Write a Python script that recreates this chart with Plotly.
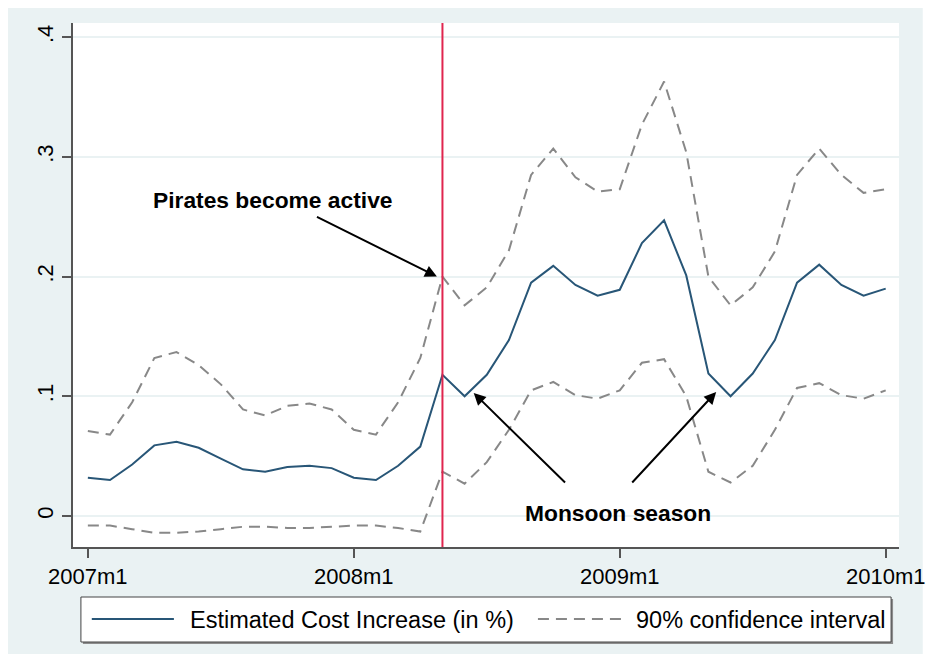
import plotly.graph_objects as go

# ---------------- data ----------------
month_labels = ["2007m1", "2008m1", "2009m1", "2010m1"]
month_tick_index = [0, 12, 24, 36]
months = list(range(37))  # 2007m1 .. 2010m1

estimate = [0.032, 0.030, 0.043, 0.059, 0.062, 0.057, 0.048, 0.039, 0.037, 0.041,
            0.042, 0.040, 0.032, 0.030, 0.042, 0.058, 0.118, 0.100, 0.118, 0.147,
            0.195, 0.209, 0.193, 0.184, 0.189, 0.228, 0.247, 0.201, 0.119, 0.100,
            0.119, 0.147, 0.195, 0.210, 0.193, 0.184, 0.190]

ci_upper = [0.071, 0.068, 0.095, 0.132, 0.137, 0.126, 0.110, 0.089, 0.084, 0.092,
            0.094, 0.089, 0.072, 0.068, 0.095, 0.132, 0.200, 0.176, 0.191, 0.222,
            0.285, 0.307, 0.283, 0.271, 0.273, 0.327, 0.363, 0.304, 0.200, 0.176,
            0.191, 0.221, 0.285, 0.307, 0.285, 0.270, 0.273]

ci_lower = [-0.008, -0.008, -0.011, -0.014, -0.014, -0.013, -0.011, -0.009, -0.009, -0.010,
            -0.010, -0.009, -0.008, -0.008, -0.010, -0.013, 0.037, 0.027, 0.045, 0.072,
            0.105, 0.112, 0.101, 0.098, 0.105, 0.128, 0.131, 0.100, 0.037, 0.028,
            0.042, 0.072, 0.107, 0.111, 0.101, 0.098, 0.105]

y_tick_vals = [0, 0.1, 0.2, 0.3, 0.4]
y_tick_text = ["0", ".1", ".2", ".3", ".4"]

pirates_month = 16  # 2008m5

series_names = ["Estimated Cost Increase (in %)", "90% confidence interval"]

# ---------------- styling ----------------
OFF = 8                       # page body margin
W, H = 937 - OFF, 654 - OFF
L, R, T, B = 65, 29, 15, 107
PW, PH = W - L - R, H - T - B
BG = "#EAF2F3"
NAVY = "#285677"
GRAYL = "#888888"
FONT = "Liberation Sans, Arial, Helvetica, sans-serif"


def px_x(x):
    # reference (window) pixel -> paper coordinate
    return (x - OFF - L) / PW


def px_y(y):
    return (H - B - (y - OFF)) / PH


fig = go.Figure()

fig.add_trace(go.Scatter(x=months, y=ci_upper, mode="lines", name=series_names[1],
                         line=dict(color=GRAYL, width=2, dash="11px,7px"), showlegend=False))
fig.add_trace(go.Scatter(x=months, y=ci_lower, mode="lines", name=series_names[1],
                         line=dict(color=GRAYL, width=2, dash="11px,7px"), showlegend=False))
fig.add_trace(go.Scatter(x=months, y=estimate, mode="lines", name=series_names[0],
                         line=dict(color=NAVY, width=2), showlegend=False))

shapes = []
# white strip on the right edge
shapes.append(dict(type="rect", xref="paper", yref="paper", x0=px_x(932), x1=px_x(945),
                   y0=px_y(660), y1=px_y(0), fillcolor="white", line=dict(width=0), layer="below"))

# vertical red line at pirates onset
shapes.append(dict(type="line", xref="x", yref="paper", x0=pirates_month, x1=pirates_month,
                   y0=0, y1=1, line=dict(color="#E0254E", width=2)))

# custom legend box
shapes.append(dict(type="rect", xref="paper", yref="paper", x0=px_x(83), x1=px_x(902),
                   y0=px_y(644), y1=px_y(599), fillcolor="#8c8c8c", line=dict(width=0)))
shapes.append(dict(type="rect", xref="paper", yref="paper", x0=px_x(81), x1=px_x(900),
                   y0=px_y(642), y1=px_y(597), fillcolor="white",
                   line=dict(color="#444444", width=1)))
shapes.append(dict(type="line", xref="paper", yref="paper", x0=px_x(92), x1=px_x(175),
                   y0=px_y(619), y1=px_y(619), line=dict(color=NAVY, width=2)))
shapes.append(dict(type="line", xref="paper", yref="paper", x0=px_x(543), x1=px_x(627),
                   y0=px_y(619), y1=px_y(619), line=dict(color=GRAYL, width=2, dash="11px,7px")))

annotations = []
annotations.append(dict(xref="paper", yref="paper", x=px_x(189), y=px_y(620), text=series_names[0],
                        showarrow=False, xanchor="left", yanchor="middle",
                        font=dict(family=FONT, size=23.5, color="black")))
annotations.append(dict(xref="paper", yref="paper", x=px_x(640), y=px_y(620), text=series_names[1],
                        showarrow=False, xanchor="left", yanchor="middle",
                        font=dict(family=FONT, size=23.5, color="black")))

# text labels
annotations.append(dict(x=8.35, y=0.264, xref="x", yref="y", text="<b>Pirates become active</b>",
                        showarrow=False, font=dict(family=FONT, size=22.8, color="black")))
annotations.append(dict(x=23.93, y=0.0025, xref="x", yref="y", text="<b>Monsoon season</b>",
                        showarrow=False, font=dict(family=FONT, size=22.8, color="black")))

# arrows (head at x,y ; tail at ax,ay)
arrows = [
    (15.75, 0.200, 10.27, 0.2506),
    (17.41, 0.1028, 21.6, 0.0267),
    (28.35, 0.1036, 24.5, 0.0267),
]
for hx, hy, tx, ty in arrows:
    annotations.append(dict(x=hx, y=hy, ax=tx, ay=ty, xref="x", yref="y", axref="x", ayref="y",
                            text="", showarrow=True, arrowhead=2, arrowsize=1.2, arrowwidth=2,
                            arrowcolor="black", standoff=0))

fig.update_layout(
    width=W, height=H,
    margin=dict(l=L, r=R, t=T, b=B, pad=0),
    paper_bgcolor=BG,
    plot_bgcolor="white",
    font=dict(family=FONT, size=22, color="black"),
    shapes=shapes,
    annotations=annotations,
    showlegend=False,
    xaxis=dict(range=[-0.67, 36.6], tickvals=month_tick_index, ticktext=month_labels,
               showgrid=False, zeroline=False, showline=True, linecolor="#555555", linewidth=1.5,
               ticks="outside", ticklen=9, tickwidth=1.5, tickcolor="#555555",
               tickfont=dict(family=FONT, size=22, color="black")),
    yaxis=dict(range=[-0.0259, 0.4119], tickvals=y_tick_vals, ticktext=y_tick_text,
               tickangle=-90, showgrid=True, gridcolor=BG, gridwidth=1.5, zeroline=False,
               showline=True, linecolor="#555555", linewidth=1.5,
               ticks="outside", ticklen=9, tickwidth=1.5, tickcolor="#555555",
               tickfont=dict(family=FONT, size=22, color="black")),
)

fig.write_html("out.html", config={"displayModeBar": False})
